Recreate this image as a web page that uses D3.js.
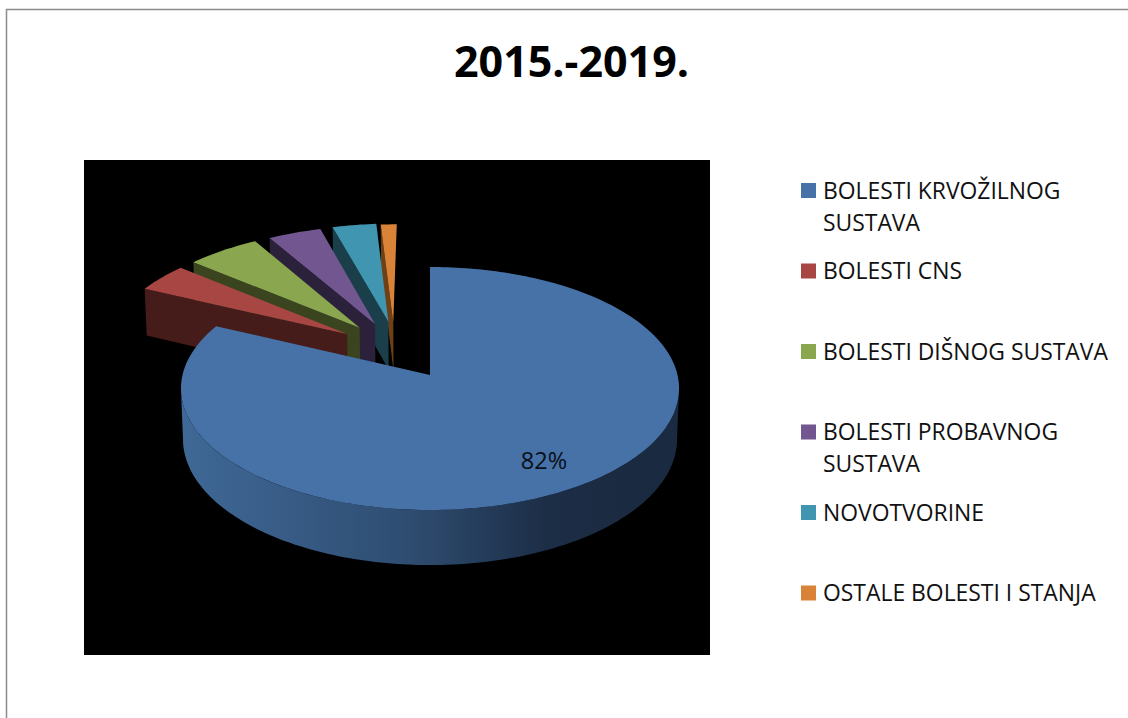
<!DOCTYPE html>
<html>
<head>
<meta charset="utf-8">
<script src="https://d3js.org/d3.v7.min.js"></script>
<style>
  html, body { margin: 0; padding: 0; background: #fff; }
  svg { display: block; }
  text { font-family: "Open Sans", "Noto Sans", sans-serif; fill: #111; }
</style>
</head>
<body>
<script>
var title = '2015.-2019.';
var categories = [
  'BOLESTI KRVOŽILNOG\nSUSTAVA',
  'BOLESTI CNS',
  'BOLESTI DIŠNOG SUSTAVA',
  'BOLESTI PROBAVNOG\nSUSTAVA',
  'NOVOTVORINE',
  'OSTALE BOLESTI I STANJA'
];
var values = [82, 4, 5.5, 4, 3.3, 1.2];
var colors = ['#4672a8', '#a84644', '#8aa64e', '#72568f', '#4096b0', '#d98338'];
var sideColors = ['#3e6796', '#461c1a', '#3a441f', '#2b213b', '#1a3e4a', '#6e4018'];
// how far each slice is pulled out of the pie, [sideways, towards the viewer], in radii
var explode = [[0, 0], [-0.348, -0.355], [-0.297, -0.412], [-0.233, -0.446], [-0.177, -0.467], [-0.156, -0.459]];

var width = 1128, height = 718;
var svg = d3.select('body').append('svg').attr('width', width).attr('height', height);

// Frame of the chart
svg.append('path')
  .attr('d', 'M6.5,718V9.5H1128')
  .attr('fill', 'none')
  .attr('stroke', '#8c8c8c')
  .attr('stroke-width', 1.5);

// Black plot area
svg.append('rect')
  .attr('x', 84).attr('y', 160)
  .attr('width', 626).attr('height', 495)
  .attr('fill', '#000');

svg.append('text')
  .attr('x', 571.5).attr('y', 77)
  .attr('text-anchor', 'middle')
  .attr('font-size', 43)
  .attr('font-weight', 700)
  .style('fill', '#000')
  .text(title);

// Fake 3D: a disc seen in perspective, u to the right and v towards the viewer
var cx = 430, cy = 375, radiusX = 247.5, radiusY = 120, persp = 0.111;

function project(u, v, low) {
  var w = 1 - persp * v + (low ? 0.008 : 0);
  return [cx + radiusX * u / w, cy + (radiusY * v + (low ? 50.5 : 0)) / w];
}

function rimPoint(angle, offset, low) {
  return project(offset[0] + Math.sin(angle), offset[1] - Math.cos(angle), low);
}

function rimPoints(a0, a1, offset, low) {
  var steps = Math.max(2, Math.ceil((a1 - a0) / 0.02));
  return d3.range(steps + 1).map(function(i) {
    return rimPoint(a0 + (a1 - a0) * i / steps, offset, low);
  });
}

var line = d3.line();
var color = d3.scaleOrdinal().domain(categories).range(colors);
var sideColor = d3.scaleOrdinal().domain(categories).range(sideColors);

var slices = d3.pie().sort(null).value(function(d, i) { return values[i]; })(categories);

// Gradient for the rim of the big slice
var grad = svg.append('defs').append('linearGradient')
  .attr('id', 'rim')
  .attr('gradientUnits', 'userSpaceOnUse')
  .attr('x1', 185).attr('x2', 640).attr('y1', 0).attr('y2', 0);
grad.append('stop').attr('offset', 0).attr('stop-color', '#3f6896');
grad.append('stop').attr('offset', 0.5).attr('stop-color', '#2e4c70');
grad.append('stop').attr('offset', 0.8).attr('stop-color', '#1c2d46');
grad.append('stop').attr('offset', 1).attr('stop-color', '#1a2a40');

// Painted from the last slice back to the first, each one hides the cut side of the next
var order = d3.range(slices.length - 1, -1, -1);

order.forEach(function(i) {
  var s = slices[i], off = explode[i], g = svg.append('g');
  var apexTop = project(off[0], off[1], false);
  var apexLow = project(off[0], off[1], true);

  if (i === 0) {
    // Outer rim, only between the points where the disc is widest
    var rimStart = Math.acos(-persp), rimEnd = 2 * Math.PI - rimStart;
    var top = rimPoints(rimStart, rimEnd, off, false);
    var low = rimPoints(rimStart, rimEnd, off, true).reverse();
    g.append('path')
      .attr('d', line(top.concat(low)) + 'Z')
      .attr('fill', 'url(#rim)');
  } else {
    // Cut side facing the viewer
    g.append('path')
      .attr('d', line([apexTop, rimPoint(s.startAngle, off, false), rimPoint(s.startAngle, off, true), apexLow]) + 'Z')
      .attr('fill', sideColor(s.data));
  }

  // Top face
  g.append('path')
    .attr('d', line([apexTop].concat(rimPoints(s.startAngle, s.endAngle, off, false))) + 'Z')
    .attr('fill', color(s.data));
});

// Only the biggest slice has a label
svg.append('text')
  .attr('x', 544).attr('y', 469)
  .attr('text-anchor', 'middle')
  .attr('font-size', 23.5)
  .style('fill', '#0a0f18')
  .text(d3.format('.0%')(values[0] / d3.sum(values)));

// Legend
var legendY = d3.scalePoint().domain(categories).range([190.5, 593]);

var rows = svg.selectAll('g.legend')
  .data(categories)
  .enter().append('g')
  .attr('class', 'legend')
  .attr('transform', function(d) { return 'translate(801,' + legendY(d) + ')'; });

rows.append('rect')
  .attr('y', -7.5)
  .attr('width', 15).attr('height', 15)
  .attr('fill', function(d) { return color(d); });

rows.append('text')
  .attr('font-size', 22.9)
  .selectAll('tspan')
  .data(function(d) { return d.split('\n'); })
  .enter().append('tspan')
  .attr('x', 22)
  .attr('y', function(d, i) { return 8 + i * 32; })
  .text(function(d) { return d; });
</script>
</body>
</html>
